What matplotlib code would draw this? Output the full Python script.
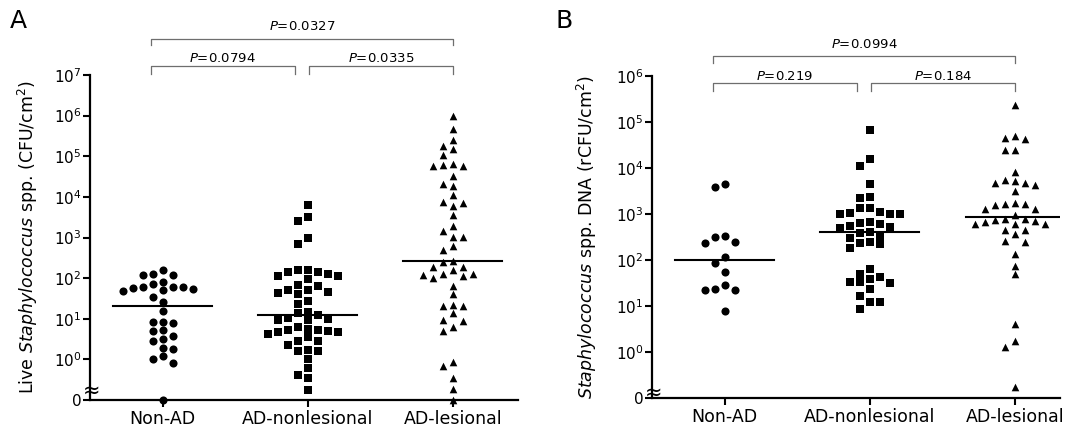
import numpy as np
import matplotlib.pyplot as plt
from matplotlib import transforms
from matplotlib.ticker import NullLocator

groups = ['Non-AD', 'AD-nonlesional', 'AD-lesional']

# A: live Staphylococcus spp. (CFU/cm2), 0 = nothing recovered
live_non_ad = [160, 120, 118, 125, 59, 57, 81, 51, 71, 47, 54, 59, 59,
               26, 35, 15.6, 8.3, 8.0, 8.5, 5.0, 5.3, 3.8, 2.8, 3.2, 1.9, 1.85,
               1.05, 1.2, 0.8, 0]
live_nonlesional = [6200, 2600, 3200, 980, 700,
                    140, 123, 115, 155, 93, 116, 142, 156,
                    67, 52, 46, 40, 43, 50, 63,
                    27, 22.5,
                    14.8, 12.3, 14,
                    9.6, 9.1, 9.2, 10.2,
                    6.4, 5.2, 5.3, 4.8, 2.9, 4.1, 2.3, 4.7, 2.8, 4.9, 3.5, 5.7,
                    1.7, 1.6, 1.62,
                    1.05, 0.6, 0.41, 0.34, 0.18]
live_lesional = [1.0e6, 4.8e5, 2.5e5, 1.5e5, 1.74e5, 1.05e5, 6.2e4, 5.6e4, 5.9e4, 6.6e4,
                 3.2e4, 2.1e4, 1.9e4, 1.1e4, 6.1e3, 7.3e3, 7.2e3, 3.5e3, 1.96e3, 1.03e3,
                 1.02e3, 1.48e3, 500, 630, 270, 250, 185, 186, 123, 124,
                 102, 112, 122, 156, 63, 40, 22, 20.4, 21, 13.5,
                 9.1, 9.0, 5.0, 6.4, 0.86, 0.69, 0.34, 0.19, 0]

# B: Staphylococcus spp. DNA (rCFU/cm2)
dna_non_ad = [4500, 3880, 315, 230, 250, 340, 116, 85, 56, 28, 22.4, 22, 23, 7.6]
dna_nonlesional = [6.7e4, 1.55e4, 1.1e4, 4600, 2300, 2250, 1350, 1020, 1340, 1050,
                   1020, 1000, 1100, 660, 610, 640, 540, 500, 525, 400,
                   340, 390, 295, 237, 178, 225, 250, 63, 43, 33,
                   24, 31, 34, 38, 50, 12.3, 16.5, 12, 8.5]
dna_lesional = [2.3e5, 5.0e4, 4.4e4, 4.3e4, 2.5e4, 2.45e4, 8.1e3, 4.7e3, 4.2e3, 5.3e3,
                5.5e3, 4.8e3, 3.1e3, 1660, 1550, 1300, 1310, 1650, 1740, 970,
                760, 610, 770, 615, 720, 725, 605, 660, 440, 460,
                360, 257, 250, 132, 74, 49, 4.0, 1.7, 1.3, 0.17]

p_live = ['0.0794', '0.0335', '0.0327']
p_dna = ['0.219', '0.184', '0.0994']

markers = ['o', 's', '^']
marker_sizes = [34, 28, 30]

W, H = 1079, 434
fig = plt.figure(figsize=(W / 100, H / 100), dpi=100)


def px_rect(left, top, right, bottom):
    return [left / W, 1 - bottom / H, (right - left) / W, (bottom - top) / H]


def swarm_x(ax, vals, center, step_px=10.0, min_gap=8.0):
    # simple column beeswarm done in screen pixels
    ypx = ax.transData.transform(np.column_stack([np.ones_like(vals), vals]))[:, 1]
    unit = ax.transData.transform([[1, 1]])[0, 0] - ax.transData.transform([[0, 1]])[0, 0]
    cols = {}
    xs = np.zeros(len(vals))
    for i in np.argsort(-vals, kind='stable'):
        for k in [0, -1, 1, -2, 2, -3, 3, -4, 4, -5, 5]:
            if all(abs(ypx[i] - y) >= min_gap for y in cols.get(k, [])):
                break
        cols.setdefault(k, []).append(ypx[i])
        xs[i] = center + k * step_px / unit
    return xs


def panel(rect, xmax, ymax, data, ylabel, ylabel_x, letter, letter_x,
          pvals, bracket_px, text_px, break_y):
    ax = fig.add_axes(rect)
    ax.set_yscale('log')
    ax.set_ylim(0.1, ymax)
    ax.set_xlim(-0.5, xmax)
    for s in ['top', 'right']:
        ax.spines[s].set_visible(False)
    for s in ['left', 'bottom']:
        ax.spines[s].set_linewidth(1.6)

    top_exp = int(round(np.log10(ymax)))
    ticks = [0.1] + [10.0 ** e for e in range(0, top_exp + 1)]
    labels = ['0'] + [r'$10^{%d}$' % e for e in range(0, top_exp + 1)]
    ax.set_yticks(ticks)
    ax.set_yticklabels(labels, fontsize=11)
    ax.yaxis.set_minor_locator(NullLocator())
    ax.set_xticks(range(3))
    ax.set_xticklabels(groups, fontsize=12.5)
    ax.tick_params(axis='both', width=1.5, length=5, pad=2)
    ax.tick_params(axis='y', pad=1)

    for i, vals in enumerate(data):
        vals = np.asarray(vals, dtype=float)
        shown = np.where(vals > 0, vals, 0.1)
        xs = swarm_x(ax, shown, i)
        ax.scatter(xs, shown, marker=markers[i], s=marker_sizes[i], color='black',
                   linewidths=0, clip_on=False, zorder=3)
        med = np.median(vals)
        ax.plot([i - 0.34, i + 0.34], [med, med], color='black', lw=1.5, zorder=4)

    # axis break just above the zero tick
    brk = transforms.blended_transform_factory(ax.transAxes, ax.transData)
    ax.text(0.004, break_y, '\u2248', transform=brk, ha='center', va='center_baseline',
            fontsize=15, zorder=5)

    # significance brackets
    tr = transforms.blended_transform_factory(ax.transData, fig.transFigure)
    spans = [(-0.08, 0.91), (1.01, 2.0), (-0.08, 2.0)]
    for (x0, x1), p, (yl, yd), yt in zip(spans, pvals, bracket_px, text_px):
        ax.plot([x0, x0, x1, x1], [1 - yd / H, 1 - yl / H, 1 - yl / H, 1 - yd / H],
                color='#6e6e6e', lw=0.9, transform=tr, clip_on=False)
        ax.text((x0 + x1) / 2, 1 - yt / H, r'$\it{P}$=' + p, transform=tr,
                ha='center', va='center', fontsize=9.5)

    fig.text(ylabel_x / W, 1 - (rect_top_px(rect) + rect_bot_px(rect)) / 2 / H, ylabel,
             rotation=90, ha='center', va='center', fontsize=12.5)
    fig.text(letter_x / W, 1 - 21 / H, letter, ha='center', va='center', fontsize=18)
    return ax


def rect_top_px(rect):
    return (1 - rect[1] - rect[3]) * H


def rect_bot_px(rect):
    return (1 - rect[1]) * H


panel(px_rect(90, 75, 518, 400), 2.45, 1e7,
      [live_non_ad, live_nonlesional, live_lesional],
      r'Live $\it{Staphylococcus}$ spp. (CFU/cm$^2$)', 28, 'A', 18,
      p_live, [(66, 74), (66, 74), (39, 45)], [58, 58, 27], 10 ** -0.72)

panel(px_rect(652, 76, 1060, 398), 2.31, 1e6,
      [dna_non_ad, dna_nonlesional, dna_lesional],
      r'$\it{Staphylococcus}$ spp. DNA (rCFU/cm$^2$)', 587, 'B', 564,
      p_dna, [(83, 91), (83, 91), (56, 63)], [76, 76, 45], 10 ** -0.85)

fig.savefig('out.png', dpi=100)
